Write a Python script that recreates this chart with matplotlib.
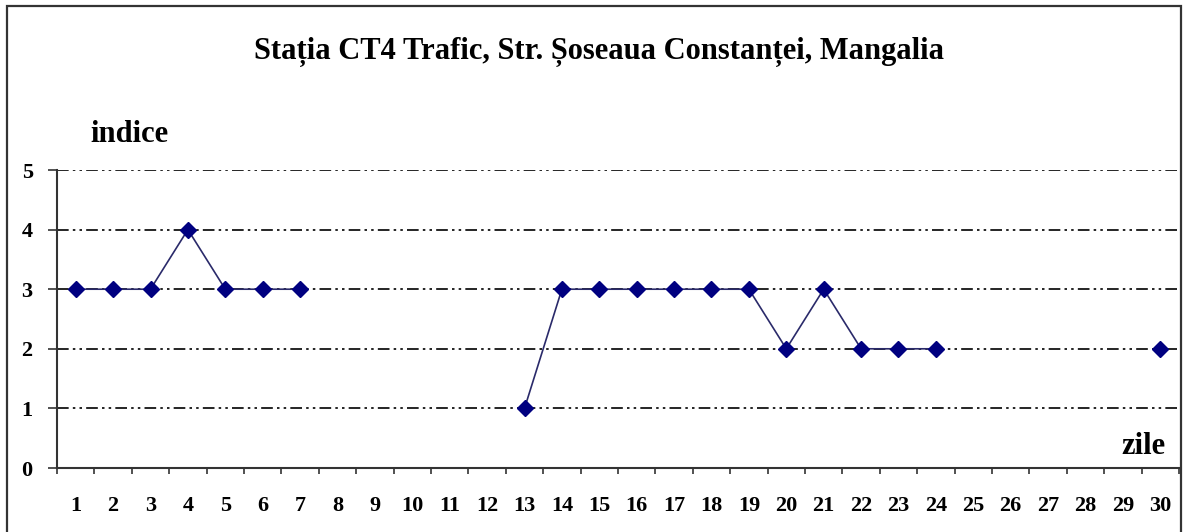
import matplotlib
matplotlib.use("Agg")
import matplotlib.pyplot as plt
import numpy as np

# indice de calitate a aerului pe zile (lipsesc zilele fara date)
zile = list(range(1, 31))
indice = [3, 3, 3, 4, 3, 3, 3, None, None, None, None, None,
          1, 3, 3, 3, 3, 3, 3, 2, 3, 2, 2, 2,
          None, None, None, None, None, 2]
yticks = [0, 1, 2, 3, 4, 5]

plt.rcParams['font.family'] = ['Liberation Serif', 'DejaVu Serif']
plt.rcParams['font.weight'] = 'bold'

fig = plt.figure(figsize=(11.85, 5.32), dpi=100)
ax = fig.add_axes([57/1185, 1 - 468/532, (1179 - 57)/1185, (468 - 170)/532])

vals = np.array([np.nan if v is None else v for v in indice], dtype=float)
x = np.array(zile, dtype=float)
# segmente continue (fara zilele lipsa)
ax.plot(x, vals, color='#2a2a6a', lw=1.2, zorder=3)
ax.plot(x, vals, linestyle='none', marker='D', markersize=8.5,
        color='#000080', markeredgecolor='#000080', zorder=4)

ax.set_xlim(0.5, 30.5)
ax.set_ylim(0, 5)
ax.set_yticks(yticks)
ax.set_yticklabels([str(t) for t in yticks], fontsize=16, fontweight='bold')
ax.set_xticks(zile)
ax.set_xticklabels([str(z) for z in zile], fontsize=16, fontweight='bold')
ax.set_xticks(np.arange(0.5, 31, 1), minor=True)
ax.tick_params(axis='x', which='major', length=0, pad=20)
ax.tick_params(axis='x', which='minor', length=4.5, width=1.2, color='#333333')
ax.tick_params(axis='y', length=6.5, width=1.2, color='#333333', pad=11)

for t in yticks[1:]:
    ax.axhline(t, color='black', lw=1.2, dashes=(7, 2.5, 1.5, 2.5, 1.5, 2.5), zorder=1)

for s in ['top', 'right']:
    ax.spines[s].set_visible(False)
ax.spines['left'].set_linewidth(1.5)
ax.spines['bottom'].set_linewidth(1.5)
ax.spines['left'].set_color('#333333')
ax.spines['bottom'].set_color('#333333')

fig.text(599/1185, 1 - 52/532, 'Stația CT4 Trafic, Str. Șoseaua Constanței, Mangalia',
         ha='center', va='center', fontsize=22, fontweight='bold')
fig.text(129/1185, 1 - 134/532, 'indice', ha='center', va='center',
         fontsize=22, fontweight='bold')
fig.text(1143/1185, 1 - 447/532, 'zile', ha='center', va='center',
         fontsize=22, fontweight='bold')

# chenar exterior
fig.patches.append(plt.Rectangle((7/1185, -0.01), (1181 - 7)/1185, 1 - 6/532 + 0.01,
                                 transform=fig.transFigure, fill=False,
                                 edgecolor='#333333', lw=1.6))

fig.savefig('out.png', dpi=100)
